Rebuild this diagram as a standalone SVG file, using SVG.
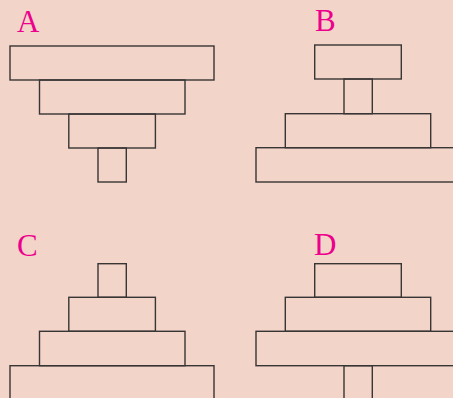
<svg xmlns="http://www.w3.org/2000/svg" width="453" height="398" viewBox="0 0 453 398">
<style>
.bg{fill:#f3d4c9}
.r{fill:none;stroke:#383535;stroke-width:1.4}
.lbl{font-family:"Liberation Serif",serif;font-size:31px;fill:#ec008c}
</style>
<rect class="bg" x="0" y="0" width="453" height="398"/>
<g id="A">
<text class="lbl" x="17" y="31.5">A</text>
<rect class="r" x="10" y="46" width="204" height="34"/>
<rect class="r" x="39.5" y="80" width="145.5" height="34"/>
<rect class="r" x="68.8" y="114" width="86.6" height="34"/>
<rect class="r" x="98" y="148" width="28.3" height="34"/>
</g>
<g id="B">
<text class="lbl" x="315" y="30.5">B</text>
<rect class="r" x="314.7" y="45" width="86.6" height="34"/>
<rect class="r" x="344" y="79" width="28.3" height="34.7"/>
<rect class="r" x="285.3" y="113.7" width="145.4" height="34"/>
<rect class="r" x="256" y="147.7" width="210" height="34.3"/>
</g>
<g id="C">
<text class="lbl" x="17" y="255.5">C</text>
<rect class="r" x="98" y="263.7" width="28.3" height="33.6"/>
<rect class="r" x="68.8" y="297.3" width="86.6" height="34"/>
<rect class="r" x="39.5" y="331.3" width="145.5" height="34.4"/>
<rect class="r" x="10" y="365.7" width="204" height="40"/>
</g>
<g id="D">
<text class="lbl" x="314" y="254.5">D</text>
<rect class="r" x="314.7" y="263.7" width="86.6" height="33.6"/>
<rect class="r" x="285.3" y="297.3" width="145.4" height="34"/>
<rect class="r" x="256" y="331.3" width="210" height="34.4"/>
<rect class="r" x="344" y="365.7" width="28.3" height="40"/>
</g>
<g id="connectors"/>
</svg>
